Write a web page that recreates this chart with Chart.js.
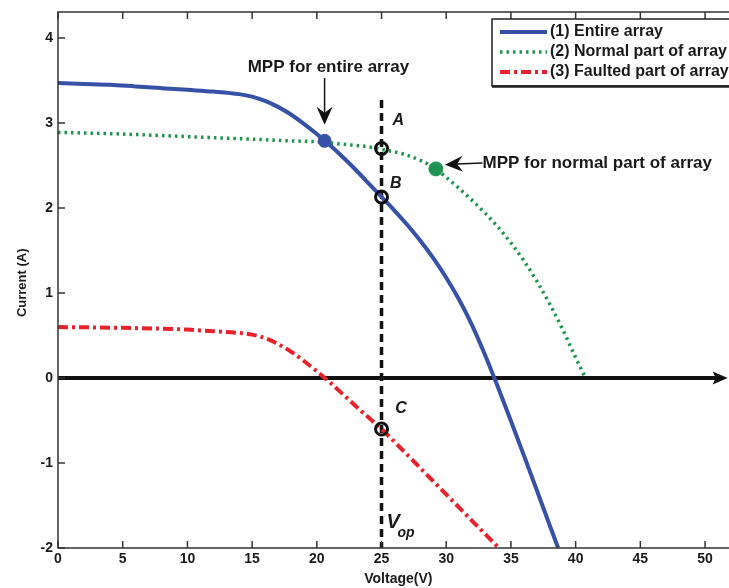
<!DOCTYPE html>
<html>
<head>
<meta charset="utf-8">
<script src="https://cdn.jsdelivr.net/npm/chart.js@4.4.1/dist/chart.umd.min.js"></script>
<style>
  html, body { margin: 0; padding: 0; background: #fff; }
  #wrap { width: 729px; height: 588px; }
</style>
</head>
<body>
<div id="wrap"><canvas id="ivChart" width="729" height="588"></canvas></div>
<script>
// (1) Entire array
const entireV = [0, 2, 4, 6, 8, 10, 12, 14, 15, 16, 17, 18, 19, 20, 21, 22, 23, 24, 25, 26, 27, 28, 29, 30, 31, 32, 33, 34, 35, 36, 37, 38, 38.65];
const entireI = [3.47, 3.46, 3.45, 3.43, 3.41, 3.39, 3.37, 3.34, 3.31, 3.26, 3.19, 3.10, 2.99, 2.87, 2.74, 2.60, 2.45, 2.29, 2.13, 1.97, 1.80, 1.615, 1.41, 1.18, 0.92, 0.62, 0.27, -0.11, -0.505, -0.91, -1.32, -1.735, -2.0];

// (2) Normal part of array
const normalV = [0, 5, 10, 15, 18, 20, 22, 24, 25, 26, 27, 28, 29, 30, 31, 32, 33, 34, 35, 36, 37, 38, 39, 40, 40.7];
const normalI = [2.89, 2.87, 2.84, 2.81, 2.79, 2.78, 2.75, 2.72, 2.69, 2.66, 2.62, 2.56, 2.48, 2.36, 2.23, 2.09, 1.94, 1.775, 1.59, 1.38, 1.14, 0.87, 0.57, 0.24, 0.02];

// (3) Faulted part of array
const faultV = [0, 5, 10, 12, 14, 15, 16, 17, 18, 19, 20, 21, 22, 23, 24, 25, 26, 27, 28, 29, 30, 31, 32, 33, 34];
const faultI = [0.60, 0.59, 0.57, 0.55, 0.53, 0.51, 0.47, 0.40, 0.31, 0.20, 0.08, -0.05, -0.19, -0.33, -0.465, -0.60, -0.75, -0.905, -1.06, -1.215, -1.37, -1.525, -1.68, -1.835, -1.99];

const seriesLabels = ['(1) Entire array', '(2) Normal part of array', '(3) Faulted part of array'];

// marked operating points
const mppEntire = { x: 20.6, y: 2.79 };
const mppNormal = { x: 29.2, y: 2.46 };
const opPoints = [{ x: 25, y: 2.70 }, { x: 25, y: 2.13 }, { x: 25, y: -0.60 }];
const vopLine = [{ x: 25, y: 3.27 }, { x: 25, y: -2 }];
const zeroLine = [{ x: 0, y: 0 }, { x: 51.2, y: 0 }];

const BLUE = '#3651a6';
const GREEN = '#1e9450';
const RED = '#e8222a';

const toXY = (xs, ys) => xs.map((v, i) => ({ x: v, y: ys[i] }));

// frame, ticks, arrows, labels and legend
const decorations = {
  id: 'decorations',
  afterDatasetsDraw(chart) {
    const ctx = chart.ctx;
    const a = chart.chartArea;
    const xs = chart.scales.x, ys = chart.scales.y;
    const px = v => xs.getPixelForValue(v);
    const py = v => ys.getPixelForValue(v);
    ctx.save();

    // axis box
    ctx.strokeStyle = '#333';
    ctx.lineWidth = 1.5;
    ctx.strokeRect(a.left, a.top, a.right - a.left + 20, a.bottom - a.top);

    // inward ticks
    ctx.beginPath();
    xs.ticks.forEach(t => {
      const x = px(t.value);
      ctx.moveTo(x, a.bottom); ctx.lineTo(x, a.bottom - 7);
      ctx.moveTo(x, a.top); ctx.lineTo(x, a.top + 7);
    });
    ys.ticks.forEach(t => {
      const y = py(t.value);
      ctx.moveTo(a.left, y); ctx.lineTo(a.left + 7, y);
    });
    ctx.stroke();

    // arrow head on the zero line
    const tipX = px(51.75), y0 = py(0);
    ctx.fillStyle = '#111';
    ctx.beginPath();
    ctx.moveTo(tipX, y0);
    ctx.lineTo(tipX - 15, y0 - 6.5);
    ctx.lineTo(tipX - 12, y0);
    ctx.lineTo(tipX - 15, y0 + 6.5);
    ctx.closePath();
    ctx.fill();

    function arrow(x1, y1, x2, y2) {
      const ang = Math.atan2(y2 - y1, x2 - x1);
      const len = 18, hw = 8;
      const bx = x2 - Math.cos(ang) * len, by = y2 - Math.sin(ang) * len;
      const nx = -Math.sin(ang), ny = Math.cos(ang);
      ctx.strokeStyle = '#111';
      ctx.lineWidth = 1.5;
      ctx.beginPath();
      ctx.moveTo(x1, y1);
      ctx.lineTo(bx + Math.cos(ang) * 6, by + Math.sin(ang) * 6);
      ctx.stroke();
      ctx.fillStyle = '#111';
      ctx.beginPath();
      ctx.moveTo(x2, y2);
      ctx.lineTo(bx + nx * hw, by + ny * hw);
      ctx.lineTo(bx + Math.cos(ang) * 6, by + Math.sin(ang) * 6);
      ctx.lineTo(bx - nx * hw, by - ny * hw);
      ctx.closePath();
      ctx.fill();
    }

    // annotations
    ctx.fillStyle = '#1a1a1a';
    ctx.textBaseline = 'middle';
    ctx.font = 'bold 17px "Liberation Sans", Arial, sans-serif';
    ctx.textAlign = 'center';
    ctx.fillText('MPP for entire array', px(20.9), py(3.65));
    arrow(px(20.6), py(3.53), px(20.6), py(2.98));
    ctx.textAlign = 'left';
    ctx.fillStyle = '#1a1a1a';
    ctx.fillText('MPP for normal part of array', px(32.8), py(2.53));
    arrow(px(32.8), py(2.53), px(29.9), py(2.51));

    ctx.fillStyle = '#1a1a1a';
    ctx.font = 'italic bold 16px "Liberation Sans", Arial, sans-serif';
    ctx.textAlign = 'center';
    ctx.fillText('A', px(26.3), py(3.03));
    ctx.fillText('B', px(26.1), py(2.29));
    ctx.fillText('C', px(26.5), py(-0.36));
    ctx.font = 'italic bold 20px "Liberation Sans", Arial, sans-serif';
    ctx.fillText('V', px(25.9), py(-1.70));
    ctx.font = 'italic bold 14px "Liberation Sans", Arial, sans-serif';
    ctx.fillText('op', px(26.9), py(-1.82));

    // axis titles
    ctx.font = 'bold 14px "Liberation Sans", Arial, sans-serif';
    ctx.fillText('Voltage(V)', px(26.3), 579);
    ctx.save();
    ctx.translate(22, py(1.12));
    ctx.rotate(-Math.PI / 2);
    ctx.font = 'bold 13px "Liberation Sans", Arial, sans-serif';
    ctx.fillText('Current (A)', 0, 0);
    ctx.restore();

    // legend box inside the plot, top right
    const lx = a.left + 434, ly = a.top + 7, lh = 67;
    ctx.fillStyle = '#fff';
    ctx.fillRect(lx, ly, 260, lh);
    ctx.strokeStyle = '#222';
    ctx.lineWidth = 1.5;
    ctx.strokeRect(lx, ly, 260, lh);
    ctx.lineWidth = 2.5;
    ctx.beginPath();
    ctx.moveTo(lx, ly + lh + 0.5); ctx.lineTo(lx + 260, ly + lh + 0.5);
    ctx.stroke();
    chart.data.datasets.slice(0, 3).forEach((ds, i) => {
      const y = ly + 13 + i * 20;
      ctx.save();
      ctx.strokeStyle = ds.borderColor;
      ctx.lineWidth = ds.borderWidth;
      ctx.setLineDash(ds.borderDash || []);
      ctx.beginPath();
      ctx.moveTo(lx + 8, y); ctx.lineTo(lx + 55, y);
      ctx.stroke();
      ctx.restore();
      ctx.fillStyle = '#1a1a1a';
      ctx.textAlign = 'left';
      ctx.font = 'bold 16px "Liberation Sans", Arial, sans-serif';
      ctx.fillText(ds.label, lx + 58, y);
    });
    ctx.restore();
  }
};

const tickFont = { family: '"Liberation Sans", Arial, sans-serif', size: 14, weight: 'bold' };

new Chart(document.getElementById('ivChart'), {
  type: 'scatter',
  data: {
    datasets: [
      { label: seriesLabels[0], data: toXY(entireV, entireI), showLine: true, borderColor: BLUE, borderWidth: 4,
        pointRadius: 0, cubicInterpolationMode: 'monotone', order: 1 },
      { label: seriesLabels[1], data: toXY(normalV, normalI), showLine: true, borderColor: GREEN, borderWidth: 3.5,
        borderDash: [2.5, 4], borderCapStyle: 'butt', pointRadius: 0, cubicInterpolationMode: 'monotone', order: 1 },
      { label: seriesLabels[2], data: toXY(faultV, faultI), showLine: true, borderColor: RED, borderWidth: 4,
        borderDash: [10, 4, 3, 4], pointRadius: 0, cubicInterpolationMode: 'monotone', order: 1 },
      { label: 'zero', data: zeroLine, showLine: true, borderColor: '#111', borderWidth: 4, pointRadius: 0, order: 3 },
      { label: 'Vop', data: vopLine, showLine: true, borderColor: '#111', borderWidth: 3.5, borderDash: [8, 5],
        pointRadius: 0, order: 2 },
      { label: 'MPP entire', data: [mppEntire], pointRadius: 6.5, pointBackgroundColor: BLUE, pointBorderColor: BLUE, order: 0 },
      { label: 'MPP normal', data: [mppNormal], pointRadius: 7, pointBackgroundColor: GREEN, pointBorderColor: GREEN, order: 0 },
      { label: 'A B C', data: opPoints, pointRadius: 6, pointBackgroundColor: 'rgba(0,0,0,0)', pointBorderColor: '#111',
        pointBorderWidth: 3, order: 0 }
    ]
  },
  options: {
    responsive: false,
    animation: false,
    devicePixelRatio: 1,
    layout: { autoPadding: false, padding: { top: 12, right: 0, left: 0, bottom: 0 } },
    plugins: { legend: { display: false }, tooltip: { enabled: false } },
    scales: {
      x: {
        type: 'linear', min: 0, max: 51.85,
        ticks: { stepSize: 5, includeBounds: false, font: tickFont, color: '#1a1a1a', padding: 3, maxRotation: 0, autoSkip: false },
        grid: { display: false, drawTicks: false },
        border: { display: false },
        afterFit(s) { s.height = 40; s.paddingLeft = 0; s.paddingRight = 0; }
      },
      y: {
        min: -2, max: 4.306,
        ticks: { stepSize: 1, includeBounds: false, font: tickFont, color: '#1a1a1a', padding: 5 },
        grid: { display: false, drawTicks: false },
        border: { display: false },
        afterFit(s) { s.width = 58; s.paddingTop = 0; s.paddingBottom = 0; }
      }
    }
  },
  plugins: [decorations]
});
</script>
</body>
</html>
